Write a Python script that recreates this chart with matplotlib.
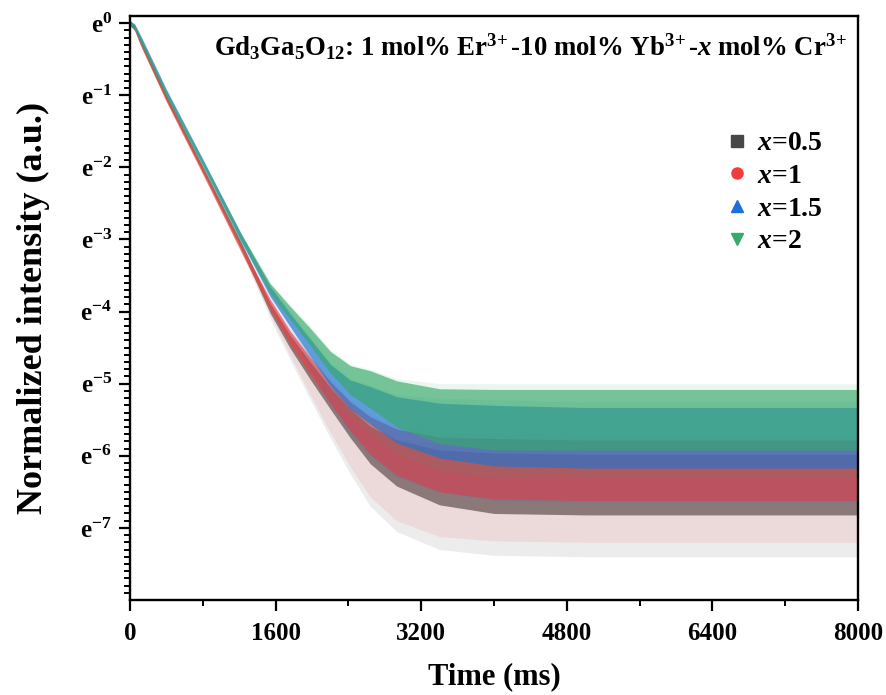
"""Decay curves of Gd3Ga5O12:Er/Yb/Cr for several Cr contents (ln scale)."""

import matplotlib

matplotlib.use("Agg")
import matplotlib.pyplot as plt
import numpy as np
from matplotlib.lines import Line2D
from matplotlib.ticker import FixedLocator, FuncFormatter

plt.rcParams["font.family"] = ["Liberation Serif", "DejaVu Serif"]
plt.rcParams["font.weight"] = "bold"
plt.rcParams["mathtext.fontset"] = "custom"
plt.rcParams["mathtext.rm"] = "Liberation Serif:bold"
plt.rcParams["mathtext.bf"] = "Liberation Serif:bold"
plt.rcParams["mathtext.it"] = "Liberation Serif:bold:italic"

TIME_MS = [0, 50, 120, 400, 810, 1220, 1540, 1760, 1980, 2200, 2420, 2640,
           2930, 3400, 4000, 5000, 6000, 7000, 8000]

# Centre of each cloud, ln(normalized intensity)
MID_05 = [0, -0.06, -0.27, -1.03, -2.05, -3.08, -3.95, -4.42, -4.82, -5.2,
          -5.55, -5.85, -6.1, -6.3, -6.38, -6.4, -6.4, -6.4, -6.4]
MID_1 = [0, -0.07, -0.28, -1.05, -2.08, -3.12, -3.9, -4.36, -4.75, -5.12,
         -5.45, -5.72, -5.95, -6.12, -6.18, -6.2, -6.2, -6.2, -6.2]
MID_15 = [0, -0.04, -0.22, -0.96, -1.95, -2.97, -3.72, -4.12, -4.5, -4.88,
          -5.15, -5.3, -5.5, -5.65, -5.72, -5.75, -5.75, -5.75, -5.75]
MID_2 = [0, -0.05, -0.24, -0.98, -1.97, -2.97, -3.68, -4.02, -4.35, -4.7,
         -4.95, -5.08, -5.28, -5.45, -5.5, -5.5, -5.5, -5.5, -5.5]

# Half width of the dense part of the clouds (ln units)
DENSE_HALF = [0.03, 0.03, 0.04, 0.04, 0.04, 0.05, 0.07, 0.09, 0.12, 0.15,
              0.2, 0.26, 0.32, 0.38, 0.42, 0.42, 0.42, 0.42, 0.42]
# Extent of the sparse outliers above / below the centre (ln units)
SPARSE_UP = [0.04, 0.04, 0.05, 0.05, 0.05, 0.06, 0.08, 0.12, 0.15, 0.18,
             0.22, 0.28, 0.35, 0.45, 0.5, 0.5, 0.5, 0.5, 0.5]
SPARSE_DOWN_05 = [0.04, 0.04, 0.05, 0.05, 0.05, 0.06, 0.15, 0.25, 0.4, 0.55,
                  0.7, 0.85, 0.95, 1.0, 1.0, 1.0, 1.0, 1.0, 1.0]
SPARSE_DOWN_1 = [0.04, 0.04, 0.05, 0.05, 0.05, 0.06, 0.15, 0.25, 0.4, 0.55,
                 0.7, 0.85, 0.95, 1.0, 1.0, 1.0, 1.0, 1.0, 1.0]
SPARSE_DOWN_15 = [0.04, 0.04, 0.05, 0.05, 0.05, 0.06, 0.12, 0.2, 0.3, 0.4,
                  0.55, 0.7, 0.8, 0.85, 0.9, 0.9, 0.9, 0.9, 0.9]
SPARSE_DOWN_2 = [0.04, 0.04, 0.05, 0.05, 0.05, 0.06, 0.12, 0.2, 0.3, 0.4,
                 0.5, 0.6, 0.7, 0.75, 0.8, 0.8, 0.8, 0.8, 0.8]

LABELS = ["$x$=0.5", "$x$=1", "$x$=1.5", "$x$=2"]
COLORS = ["#474747", "#f03c3c", "#1e6ee0", "#35aa6a"]
MARKERS = ["s", "o", "^", "v"]
MIDS = [MID_05, MID_1, MID_15, MID_2]
DOWNS = [SPARSE_DOWN_05, SPARSE_DOWN_1, SPARSE_DOWN_15, SPARSE_DOWN_2]

X_TICKS = [0, 1600, 3200, 4800, 6400, 8000]
Y_POWERS = [0, -1, -2, -3, -4, -5, -6, -7]

fig = plt.figure(figsize=(8.87, 6.95), dpi=100)
ax = fig.add_axes([0.1466, 0.1367, 0.8207, 0.8403])

t = np.array(TIME_MS, dtype=float)
half = np.array(DENSE_HALF)
up = np.array(SPARSE_UP)
for mid, down, color in zip(MIDS, DOWNS, COLORS):
    mid = np.array(mid)
    down = np.array(down)
    ax.fill_between(t, np.exp(mid - down), np.exp(mid + up), color=color,
                    alpha=0.1, lw=0)
    ax.fill_between(t, np.exp(mid - half), np.exp(mid + half), color=color,
                    alpha=0.65, lw=0)

ax.set_yscale("log", base=np.e)
ax.set_xlim(0, 8000)
ax.set_ylim(np.exp(-8), np.exp(0.1))
ax.set_xticks(X_TICKS)
ax.set_xticks(np.arange(0, 8001, 800), minor=True)
ax.yaxis.set_major_locator(FixedLocator(np.exp(Y_POWERS)))
minor_pows = [p - k / 10 for p in range(0, -8, -1) for k in range(1, 10)]
ax.yaxis.set_minor_locator(FixedLocator(np.exp(minor_pows)))
ax.yaxis.set_major_formatter(
    FuncFormatter(lambda v, pos: r"$\mathrm{e}^{%d}$" % round(np.log(v))))
ax.yaxis.set_minor_formatter(FuncFormatter(lambda v, pos: ""))

ax.tick_params(which="major", direction="out", length=8, width=1.6,
               labelsize=18, pad=5)
ax.tick_params(axis="x", which="major", pad=8)
ax.tick_params(which="minor", direction="out", length=4, width=1.4)
for side in ax.spines.values():
    side.set_linewidth(1.7)

ax.set_xlabel("Time (ms)", fontsize=22, fontweight="bold", labelpad=12)
ax.set_ylabel("Normalized intensity (a.u.)", fontsize=26, fontweight="bold",
              labelpad=22)

ax.text(0.985, 0.947,
        "Gd$_3$Ga$_5$O$_{12}$: 1 mol% Er$^{3\\!+}$-10 mol% Yb$^{3\\!+}$"
        "-$x$ mol% Cr$^{3\\!+}$",
        transform=ax.transAxes, ha="right", va="center", fontsize=19.3,
        fontweight="bold")

handles = [Line2D([], [], ls="none", marker=m, ms=8, color=c, label=lab)
           for m, c, lab in zip(MARKERS, COLORS, LABELS)]
ax.legend(handles=handles, loc="upper left", bbox_to_anchor=(0.8, 0.822),
          frameon=False, fontsize=20, handlelength=1.0, handletextpad=0.2,
          labelspacing=0.26, borderaxespad=0)

fig.savefig("out.png", dpi=100)
